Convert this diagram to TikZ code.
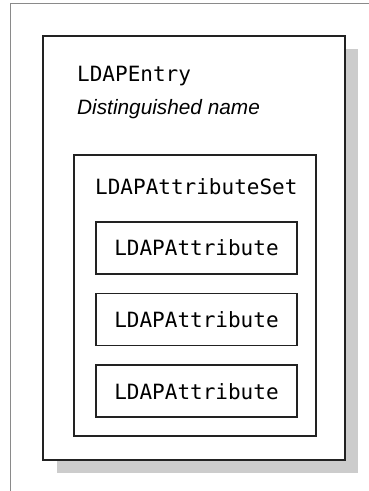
\documentclass[tikz,border=0pt]{standalone}
\usepackage{fontspec}
\setmainfont{Liberation Sans}
\setmonofont{DejaVu Sans Mono}
\usetikzlibrary{positioning}
\definecolor{framegray}{HTML}{8a8a8a}
\definecolor{shadowgray}{HTML}{cccccc}
\definecolor{ink}{HTML}{222222}

\begin{document}
\begin{tikzpicture}[x=1pt, y=1pt,
  box/.style={draw=ink, line width=1.6pt},
  attrbox/.style={box, minimum width=201pt, minimum height=52pt, inner sep=0pt,
    font=\fontsize{21}{24}\ttfamily},
  label/.style={anchor=base west, inner sep=0pt}]
  \useasboundingbox (0,0) rectangle (369,491);
  % page frame, open at right and bottom
  \draw[framegray, line width=0.8pt] (369,488) -- (10,488) -- (10,0);
  % entry box with its shadow
  \fill[shadowgray] (57,18) rectangle (358,442);
  \draw[box, fill=white] (43,31) rectangle (345,455);
  \node[label, font=\fontsize{21}{24}\ttfamily] (entry) at (77,409) {LDAPEntry};
  \node[label, font=\fontsize{20.8}{24}\itshape] (dn) at (77,376) {Distinguished name};
  % attribute set
  \draw[box] (74,55) rectangle (316,336);
  \node[label, font=\fontsize{21}{24}\ttfamily] (set) at (95,296) {LDAPAttributeSet};
  \node[attrbox] (attr1) at (196.5,243) {LDAPAttribute};
  \node[attrbox, below=18pt of attr1] (attr2) {LDAPAttribute};
  \node[attrbox, below=18pt of attr2] (attr3) {LDAPAttribute};
\end{tikzpicture}
\end{document}
